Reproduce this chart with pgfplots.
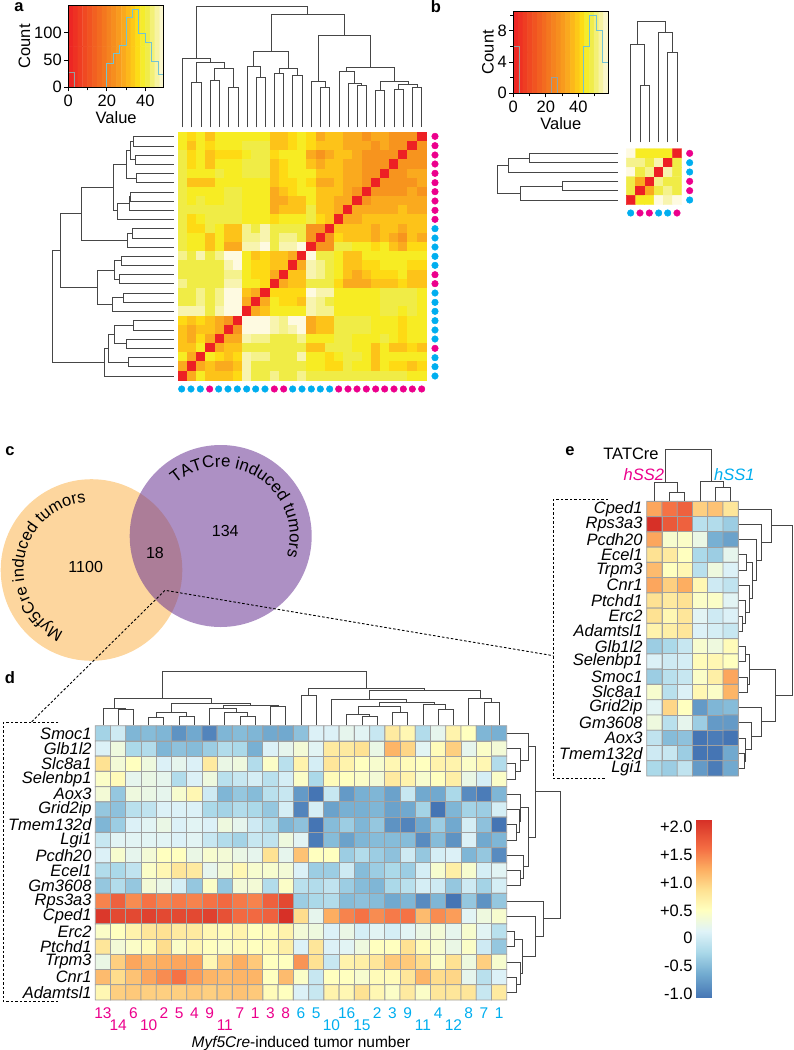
\documentclass[border=0pt]{standalone}
\usepackage{fontspec}
\setmainfont{Liberation Sans}
\usepackage{pgfplots}
\usepackage{pgfplotstable}
\pgfplotsset{compat=1.18}
\usetikzlibrary{decorations.text}
\definecolor{mag}{RGB}{236,0,140}
\definecolor{cya}{RGB}{0,174,239}
\definecolor{dend}{RGB}{70,70,70}
\definecolor{stair}{RGB}{115,195,210}
\definecolor{cellg}{RGB}{160,160,160}
\pgfplotsset{
 colormap={heatc}{rgb255(0pt)=(237,32,36); rgb255(25pt)=(247,148,30); rgb255(29pt)=(250,170,30); rgb255(33pt)=(253,195,25); rgb255(36pt)=(254,218,20); rgb255(38pt)=(247,236,35); rgb255(41pt)=(240,236,70); rgb255(45pt)=(245,242,140); rgb255(47pt)=(248,244,175); rgb255(50pt)=(254,250,225)},
 colormap={rdyl}{rgb255=(69,117,180) rgb255=(116,173,209) rgb255=(171,217,233) rgb255=(224,243,248) rgb255=(255,255,191) rgb255=(254,224,144) rgb255=(253,174,97) rgb255=(244,109,67) rgb255=(215,48,39)},
 ov/.style n args={6}{at={(#1pt,-#2pt)},anchor=north west,scale only axis,width=#3pt,height=#4pt,xmin=0,xmax=#5,ymin=0,ymax=#6,y dir=reverse,hide axis,clip=false},
 den/.style={draw=dend,line width=0.9pt,forget plot,mark=none,line join=miter},
 hist/.style={scale only axis,axis on top,anchor=north west,tick align=outside,tick pos=left,
   axis line style={line width=1pt,black},
   major tick length=4pt,minor tick length=3pt,tick style={black,line width=0.8pt},
   tick label style={font=\fontsize{16.5}{18}\selectfont,/pgf/number format/assume math mode=true},
   label style={font=\fontsize{16.5}{18}\selectfont},
   xticklabel style={yshift=0pt},yticklabel style={xshift=1pt},
   xlabel style={yshift=2pt},ylabel style={yshift=-3pt}},
 heat/.style={scale only axis,anchor=north west,y dir=reverse,axis line style={draw=none},major tick length=0pt,clip=false},
}
\newcommand\TD[5]{\addplot[den] coordinates {(#1,#2)(#1,#5)(#3,#5)(#3,#4)};}
\newcommand\HD[5]{\addplot[den] coordinates {(#2,#1)(#5,#1)(#5,#3)(#4,#3)};}
\newcommand\fs{\fontsize{16.5}{18}\selectfont}
\newcommand\Mu[1]{\smash{\textcolor{mag}{#1}}}
\newcommand\Ml[1]{\smash{\raisebox{-12.5pt}{\textcolor{mag}{#1}}}}
\newcommand\Cu[1]{\smash{\textcolor{cya}{#1}}}
\newcommand\Cl[1]{\smash{\raisebox{-12.5pt}{\textcolor{cya}{#1}}}}

\pgfplotstableread[header=false,row sep=\\]{
1.25\\3.75\\6.25\\8.75\\11.25\\13.75\\16.25\\18.75\\21.25\\23.75\\26.25\\28.75\\31.25\\33.75\\36.25\\38.75\\41.25\\43.75\\46.25\\48.75\\
1.25\\3.75\\6.25\\8.75\\11.25\\13.75\\16.25\\18.75\\21.25\\23.75\\26.25\\28.75\\31.25\\33.75\\36.25\\38.75\\41.25\\43.75\\46.25\\48.75\\
}\stripes

\pgfplotstableread[header=false,row sep=\\]{
38\\36\\38\\33\\38\\38\\38\\38\\38\\38\\33\\33\\36\\38\\36\\29\\33\\33\\29\\29\\25\\29\\29\\25\\25\\25\\0\\
38\\33\\38\\36\\38\\38\\38\\41\\41\\41\\33\\33\\36\\38\\36\\33\\33\\33\\29\\29\\29\\25\\29\\25\\25\\0\\25\\
41\\36\\38\\33\\36\\36\\36\\38\\41\\41\\36\\38\\38\\38\\29\\25\\29\\33\\33\\29\\25\\25\\25\\25\\0\\25\\25\\
41\\36\\38\\33\\38\\38\\38\\41\\41\\41\\33\\36\\38\\38\\33\\29\\33\\33\\29\\29\\25\\25\\25\\0\\25\\25\\25\\
41\\38\\38\\38\\41\\38\\38\\41\\41\\41\\33\\36\\38\\38\\38\\33\\33\\33\\29\\29\\25\\25\\0\\25\\25\\29\\29\\
41\\33\\33\\33\\38\\38\\38\\38\\38\\38\\33\\36\\36\\38\\36\\29\\29\\33\\29\\29\\25\\0\\25\\25\\25\\25\\29\\
41\\38\\38\\38\\38\\41\\41\\38\\38\\38\\29\\33\\36\\38\\38\\33\\33\\33\\29\\25\\0\\25\\25\\25\\25\\29\\25\\
41\\38\\41\\38\\38\\41\\41\\38\\38\\38\\29\\29\\33\\33\\38\\33\\33\\29\\29\\0\\25\\29\\29\\29\\29\\29\\29\\
41\\41\\41\\41\\41\\41\\41\\38\\38\\38\\29\\33\\33\\33\\41\\33\\33\\29\\0\\29\\29\\29\\29\\29\\33\\29\\29\\
41\\36\\38\\41\\41\\41\\41\\38\\38\\38\\36\\38\\38\\38\\41\\36\\33\\0\\29\\29\\33\\33\\33\\33\\33\\33\\33\\
41\\36\\36\\41\\38\\33\\33\\45\\41\\47\\41\\41\\41\\41\\25\\25\\0\\33\\33\\33\\33\\29\\33\\33\\29\\33\\33\\
41\\38\\38\\33\\38\\33\\33\\45\\45\\47\\41\\45\\45\\41\\25\\0\\25\\36\\33\\33\\33\\29\\33\\29\\25\\33\\29\\
41\\38\\38\\33\\38\\29\\29\\47\\47\\50\\41\\47\\47\\50\\0\\25\\25\\41\\41\\38\\38\\36\\38\\33\\29\\36\\36\\
45\\41\\47\\41\\45\\50\\50\\38\\33\\36\\33\\33\\29\\0\\50\\41\\41\\38\\33\\33\\38\\38\\38\\38\\38\\38\\38\\
41\\41\\41\\41\\41\\47\\50\\38\\36\\36\\33\\33\\0\\29\\47\\45\\41\\38\\33\\33\\36\\36\\38\\38\\38\\36\\36\\
41\\41\\41\\41\\41\\45\\45\\38\\36\\36\\29\\0\\33\\33\\47\\45\\41\\38\\33\\29\\33\\36\\36\\36\\38\\33\\33\\
45\\41\\41\\41\\41\\47\\47\\38\\38\\36\\0\\29\\33\\33\\41\\41\\41\\36\\29\\29\\29\\33\\33\\33\\36\\33\\33\\
41\\41\\45\\41\\45\\50\\50\\33\\29\\0\\36\\36\\36\\36\\50\\47\\47\\38\\38\\38\\38\\38\\41\\41\\41\\41\\38\\
41\\41\\45\\41\\45\\50\\50\\29\\0\\29\\38\\36\\36\\33\\47\\45\\41\\38\\38\\38\\38\\38\\41\\41\\41\\41\\38\\
47\\47\\47\\41\\47\\50\\50\\0\\29\\33\\38\\38\\38\\38\\47\\45\\45\\38\\38\\38\\38\\38\\41\\41\\38\\41\\38\\
36\\33\\36\\33\\29\\25\\0\\50\\50\\50\\47\\45\\50\\50\\29\\33\\33\\41\\41\\41\\41\\38\\38\\38\\36\\38\\38\\
33\\29\\33\\33\\29\\0\\25\\50\\50\\50\\47\\45\\47\\50\\29\\33\\33\\41\\41\\41\\41\\38\\38\\38\\36\\38\\38\\
33\\29\\36\\29\\0\\29\\29\\47\\45\\45\\41\\41\\41\\45\\38\\38\\38\\41\\41\\38\\38\\38\\41\\38\\36\\38\\38\\
33\\33\\38\\0\\29\\33\\33\\41\\41\\41\\41\\41\\41\\41\\33\\33\\41\\41\\41\\38\\38\\33\\38\\33\\33\\36\\33\\
38\\29\\0\\38\\36\\33\\36\\47\\45\\45\\41\\41\\41\\47\\38\\38\\36\\38\\41\\41\\38\\33\\38\\38\\38\\38\\38\\
29\\0\\29\\33\\29\\29\\33\\47\\41\\41\\41\\41\\41\\41\\38\\38\\36\\36\\41\\38\\38\\33\\38\\36\\36\\33\\36\\
0\\29\\38\\33\\33\\33\\36\\47\\41\\41\\45\\41\\41\\45\\41\\41\\41\\41\\41\\41\\41\\41\\41\\41\\41\\38\\38\\
}\heatA

\pgfplotstableread[header=false,row sep=\\]{
50\\38\\38\\38\\38\\0\\
45\\45\\41\\47\\0\\41\\
50\\41\\45\\0\\47\\41\\
41\\29\\0\\45\\41\\41\\
41\\0\\29\\41\\45\\41\\
0\\38\\38\\50\\47\\50\\
}\heatB

\pgfplotstableread[header=false,row sep=\\]{
-0.3\\0\\-0.55\\-0.5\\-0.55\\-0.8\\-0.65\\-0.9\\-0.55\\-0.5\\-0.55\\-0.65\\-0.65\\-0.45\\0.1\\0.1\\0.2\\0.15\\-0.05\\0.75\\0.6\\-0.2\\0.2\\0.65\\0.5\\-0.55\\-0.6\\
0.1\\0.3\\-0.25\\-0.2\\-0.55\\-0.45\\-0.5\\-0.35\\-0.2\\-0.25\\-0.6\\0.1\\0.2\\0.35\\0.15\\0.75\\0.75\\0.85\\0.25\\1.2\\0.95\\0.15\\0.55\\1.0\\0.2\\0.45\\0.35\\
0.85\\0.35\\0.5\\0.3\\0.1\\0.2\\0.1\\0.75\\0.25\\0.3\\-0.2\\0.45\\-0.15\\0.65\\0.05\\0.8\\0.65\\0.5\\0.4\\0.6\\0.55\\0.5\\0.65\\0.65\\0.45\\0.6\\-0.2\\
0.45\\0.55\\0.2\\0.25\\0.2\\-0.2\\0.1\\0.3\\-0.15\\-0.05\\0.05\\-0.15\\0.05\\0.45\\-0.25\\0.55\\0.5\\0.45\\0.35\\0.75\\0.65\\0.4\\0.5\\0.7\\0.25\\0.05\\0.45\\
0.35\\-0.4\\0.3\\0.25\\0.2\\0.4\\0.6\\0\\-0.55\\-0.4\\-0.5\\-0.15\\-0.05\\-0.75\\-1.0\\-0.05\\-0.75\\-0.6\\-0.55\\-0.7\\-0.05\\-0.65\\-0.65\\-0.25\\-0.85\\-0.95\\-0.55\\
-0.4\\-0.45\\-0.15\\-0.1\\0.1\\0.1\\0.1\\-0.25\\-0.3\\-0.2\\-0.25\\-0.4\\0.05\\-0.9\\0.05\\-0.7\\-0.6\\-0.6\\-0.55\\-0.7\\-0.65\\-0.3\\-1.0\\-0.55\\-0.3\\-0.35\\0.05\\
-0.55\\-0.35\\0.1\\0.15\\0.25\\0.1\\0.15\\0.1\\0.3\\0.2\\0\\-0.2\\-0.55\\-0.45\\-1.0\\-0.5\\-0.35\\-0.55\\-0.4\\-0.8\\-0.9\\-0.65\\-0.35\\-0.65\\0.05\\-0.45\\-1.0\\
-0.05\\0.15\\0.15\\0.15\\0.15\\0.1\\0.15\\-0.05\\-0.2\\-0.3\\-0.05\\-0.1\\0.3\\0.15\\-0.95\\-0.5\\-0.7\\-0.55\\-0.5\\-0.5\\-0.5\\-0.85\\-0.5\\-0.8\\0.1\\-0.65\\-0.55\\
0.1\\0.4\\0.2\\0.35\\0.5\\0.5\\0.25\\0.4\\0.35\\0.25\\0.2\\0.85\\0.2\\1.1\\0.5\\0.5\\-0.35\\-0.2\\-0.35\\-0.45\\0\\-0.4\\0.05\\0.1\\-0.55\\-0.4\\-0.85\\
-0.2\\-0.25\\-0.1\\0.45\\0.6\\0.8\\0.75\\0.2\\0.35\\0.6\\0.4\\0.4\\0.35\\0.1\\-0.35\\-0.35\\0\\-0.5\\-0.35\\-0.25\\-0.35\\0.05\\0.4\\0.7\\0.4\\0.05\\0.15\\
-0.4\\-0.2\\-0.4\\0.35\\0.25\\0.05\\-0.4\\0.45\\-0.4\\0.35\\0.35\\-0.2\\0.45\\-0.15\\-0.2\\-0.1\\-0.35\\-0.5\\-0.55\\-0.25\\-0.15\\0.05\\0\\-0.4\\0\\-0.3\\0.05\\
1.5\\1.7\\1.45\\1.6\\1.5\\1.55\\1.5\\1.6\\1.65\\1.55\\1.5\\1.7\\1.85\\-0.35\\-0.25\\-0.2\\-0.5\\-0.45\\-0.5\\-0.65\\-0.55\\-0.85\\-0.55\\-1.0\\-0.4\\-0.8\\-0.4\\
1.95\\1.85\\1.85\\1.9\\1.85\\1.85\\1.85\\1.9\\1.8\\1.65\\1.65\\1.7\\2.0\\0.9\\0.2\\1.25\\1.5\\1.6\\1.45\\1.55\\1.6\\1.15\\1.45\\1.35\\0.15\\0.3\\0.4\\
0.45\\0.5\\0.65\\0.8\\0.85\\0.75\\0.75\\0.6\\0.55\\0.65\\0.5\\0.55\\0.65\\0.35\\0.3\\0.1\\0.25\\0.05\\0.15\\0.05\\0.15\\0.25\\0.35\\0.2\\0.4\\0.15\\-0.15\\
0.8\\0.35\\0.45\\0.55\\0.9\\0.45\\0.6\\0.5\\0.45\\0.55\\0.5\\0.55\\0.7\\0.1\\0.8\\0.1\\0.15\\0.3\\0.5\\0.5\\0.85\\0.55\\0.4\\0.25\\0.45\\0\\-0.4\\
0.25\\1.0\\1.3\\1.2\\1.25\\1.3\\1.3\\0.6\\1.05\\1.25\\1.05\\0.5\\0.5\\1.4\\0.85\\-0.05\\0.65\\0.7\\0.8\\1.05\\1.05\\0.9\\0.45\\0.85\\0.3\\1.0\\0.4\\
1.15\\0.9\\1.1\\1.3\\1.45\\1.6\\1.35\\1.2\\1.15\\1.2\\1.2\\0.5\\1.15\\0.45\\-0.05\\0.5\\0.5\\0.4\\0.55\\0.55\\0.8\\1.2\\0.9\\0.95\\0.2\\-0.15\\0.1\\
0.6\\1.0\\1.05\\1.0\\1.0\\1.0\\1.05\\1.0\\1.05\\1.1\\1.05\\0.55\\0.5\\0.1\\-0.05\\0.65\\0.6\\0.85\\0.6\\0.45\\0.75\\0.45\\0.8\\0.8\\0.8\\-0.05\\0.75\\
}\heatD

\pgfplotstableread[header=false,row sep=\\]{
1.3\\1.6\\1.7\\1.0\\1.1\\0.8\\
2.0\\1.75\\1.7\\-0.15\\-0.2\\-0.35\\
1.3\\0.4\\0.45\\0.25\\-0.6\\-0.7\\
0.85\\0.75\\0.5\\-0.25\\-0.35\\0.2\\
1.15\\0.5\\0.6\\-0.15\\0.3\\0.1\\
1.3\\1.0\\1.25\\0.6\\0\\-0.1\\
0.85\\0.75\\0.85\\0.45\\0.45\\0.15\\
0.85\\0.6\\0.8\\0.15\\0\\0.1\\
0.65\\0.7\\0.8\\0.1\\0.05\\-0.05\\
-0.35\\-0.25\\-0.05\\0.4\\0.3\\0.55\\
0.1\\0\\0.05\\0.55\\0.6\\0.5\\
-0.35\\-0.15\\-0.05\\0.45\\0.7\\1.3\\
0.4\\-0.15\\0.1\\0.6\\0.45\\1.2\\
0.15\\0.95\\0.5\\-0.75\\-0.55\\-0.5\\
0.3\\-0.15\\0.2\\-0.35\\-0.75\\-0.75\\
-0.1\\-0.5\\-0.45\\-1.0\\-0.95\\-1.0\\
0\\-0.05\\-0.35\\-1.0\\-1.0\\-0.65\\
-0.25\\-0.35\\-0.1\\-0.75\\-0.95\\-0.65\\
}\heatE

\begin{document}
\begin{tikzpicture}[x=1pt,y=1pt]
\path[use as bounding box] (0,0) rectangle (793,-1050);

% ---------- panel c venn
\fill[fill={rgb,255:red,253;green,214;blue,158}] (91.5,-570) circle[radius=90.8];
\fill[fill={rgb,255:red,106;green,53;blue,148},opacity=0.55] (220.7,-536) circle[radius=91];
\path[decorate,decoration={text along path,text={|\fontsize{16.8}{18}\selectfont|TATCre induced tumors}}]
  (220.7,-536) ++(131:69) arc[start angle=131,end angle=-26,radius=69];
\path[decorate,decoration={text along path,text={|\fontsize{16.5}{18}\selectfont|Myf5Cre induced tumors}}]
  (91.5,-570) ++(246:68) arc[start angle=246,end angle=88,radius=68];
\node[font=\fontsize{16}{18}\selectfont] at (85.7,-566.7) {1100};
\node[font=\fontsize{16}{18}\selectfont] at (155,-553) {18};
\node[font=\fontsize{16}{18}\selectfont] at (225.3,-530.7) {134};
\draw[line width=0.9pt,dash pattern=on 2.5pt off 2pt] (31.7,-721.7) -- (165,-590.3) -- (553.3,-655.7);
\draw[line width=0.8pt,dash pattern=on 2.5pt off 2pt] (58.3,-722.3) -- (3.3,-722.3) -- (3.3,-1001.7) -- (58.3,-1001.7);
\draw[line width=0.8pt,dash pattern=on 2.5pt off 2pt] (608,-499.3) -- (553.3,-499.3) -- (553.3,-778) -- (606,-778);

% panel letters
\foreach \l/\px/\py in {a/19/7,b/436/7,c/10/451,d/10/678,e/570/451}
  \node[font=\fontsize{16.5}{18}\selectfont\bfseries] at (\px,-\py) {\l};

% ---------- histogram a
\begin{axis}[hist,at={(68.3pt,-5.3pt)},width=95.7pt,height=82pt,xmin=0,xmax=49.7,ymin=0,ymax=150,
  xtick={0,20,40},minor xtick={10,30},ytick={0,50,100},xlabel={Value},ylabel={Count}]
\addplot[matrix plot*,colormap name=heatc,mesh/cols=20,point meta=explicit,point meta min=0,point meta max=50]
  table[x index=0,y index=0,x expr={1.25+2.5*(\coordindex-20*floor((\coordindex+0.5)/20))},y expr={37.5+75*floor((\coordindex+0.5)/20)},meta index=0]{\stripes};
\addplot[line width=1pt,color={rgb,255:red,150;green,160;blue,160},mark=none] coordinates {(0,27)(3.4,27)(3.4,0)};
\addplot[line width=1pt,stair,mark=none] coordinates {(20,0)(20,44)(23.3,44)(23.3,62)(26.7,62)(26.7,76)(30,76)(30,127)(33.3,127)(33.3,142)(36.6,142)(36.6,98)(40,98)(40,82)(43.3,82)(43.3,48)(46.6,48)(46.6,24)(50,24)};
\end{axis}

% ---------- histogram b
\begin{axis}[hist,at={(513.3pt,-11pt)},width=95pt,height=82.3pt,xmin=0,xmax=58.5,ymin=0,ymax=10.55,
  xtick={0,20,40},minor xtick={10,30,50},ytick={0,4,8},minor ytick={2,6,10},xlabel={Value},ylabel={Count}]
\addplot[matrix plot*,colormap name=heatc,mesh/cols=20,point meta=explicit,point meta min=0,point meta max=50]
  table[x index=0,y index=0,x expr={1.4625+2.925*(\coordindex-20*floor((\coordindex+0.5)/20))},y expr={2.6375+5.275*floor((\coordindex+0.5)/20)},meta index=0]{\stripes};
\addplot[line width=1pt,color={rgb,255:red,150;green,160;blue,160},mark=none] coordinates {(0,6)(3.9,6)(3.9,0)};
\addplot[line width=1pt,color={rgb,255:red,150;green,160;blue,160},mark=none] coordinates {(23.4,0)(23.4,2)(27.5,2)(27.5,0)};
\addplot[line width=1pt,stair,mark=none] coordinates {(43,0)(43,6)(47,6)(47,10)(51,10)(51,8)(55,8)(55,4)(58.5,4)};
\end{axis}

% ---------- heat a
\begin{axis}[heat,at={(178pt,-132pt)},width=248pt,height=248pt,xmin=-0.5,xmax=26.5,ymin=-0.5,ymax=26.5,hide axis]
\addplot[matrix plot*,colormap name=heatc,mesh/cols=27,point meta=explicit,point meta min=0,point meta max=50]
  table[x index=0,y index=0,x expr={\coordindex-27*floor((\coordindex+0.5)/27)},y expr={floor((\coordindex+0.5)/27)},meta index=0]{\heatA};
\end{axis}

% ---------- heat b
\begin{axis}[heat,at={(626.3pt,-148.7pt)},width=55.4pt,height=56pt,xmin=-0.5,xmax=5.5,ymin=-0.5,ymax=5.5,hide axis]
\addplot[matrix plot*,colormap name=heatc,mesh/cols=6,point meta=explicit,point meta min=0,point meta max=50]
  table[x index=0,y index=0,x expr={\coordindex-6*floor((\coordindex+0.5)/6)},y expr={floor((\coordindex+0.5)/6)},meta index=0]{\heatB};
\end{axis}

% ---------- heat d
\begin{axis}[heat,at={(95.3pt,-725.7pt)},width=411.4pt,height=274.3pt,xmin=-0.5,xmax=26.5,ymin=-0.5,ymax=17.5,
  xtick={0,...,26},ytick={0,...,17},
  yticklabels={Smoc1,Glb1l2,Slc8a1,Selenbp1,Aox3,Grid2ip,Tmem132d,Lgi1,Pcdh20,Ecel1,Gm3608,Rps3a3,Cped1,Erc2,Ptchd1,Trpm3,Cnr1,Adamtsl1},
  yticklabel style={font=\fs\itshape,inner sep=0pt,xshift=-3.5pt},
  xticklabels={\Mu{13},\Ml{14},\Mu{6},\Ml{10},\Mu{2},\Mu{5},\Mu{4},\Mu{9},\Ml{11},\Mu{7},\Mu{1},\Mu{3},\Mu{8},\Cu{6},\Cu{5},\Cl{10},\Cu{16},\Cl{15},\Cu{2},\Cu{3},\Cu{9},\Cl{11},\Cu{4},\Cl{12},\Cu{8},\Cu{7},\Cu{1}},
  xticklabel style={font=\fontsize{15.5}{17}\selectfont,inner sep=0pt,yshift=-17.6pt},
  xlabel={\textit{Myf5Cre}-induced tumor number},
  xlabel style={font=\fontsize{15.5}{17}\selectfont,at={(axis description cs:0.5,0)},anchor=north,yshift=-33pt}]
\addplot[matrix plot,draw=cellg,line width=0.9pt,colormap name=rdyl,mesh/cols=27,point meta=explicit,point meta min=-1,point meta max=2]
  table[x index=0,y index=0,x expr={\coordindex-27*floor((\coordindex+0.5)/27)},y expr={floor((\coordindex+0.5)/27)},meta index=0]{\heatD};
\end{axis}

% ---------- heat e
\begin{axis}[heat,at={(646.7pt,-501.3pt)},width=91.6pt,height=274.7pt,xmin=-0.5,xmax=5.5,ymin=-0.5,ymax=17.5,
  xtick=\empty,ytick={0,...,17},
  yticklabels={Cped1,Rps3a3,Pcdh20,Ecel1,Trpm3,Cnr1,Ptchd1,Erc2,Adamtsl1,Glb1l2,Selenbp1,Smoc1,Slc8a1,Grid2ip,Gm3608,Aox3,Tmem132d,Lgi1},
  yticklabel style={font=\fs\itshape,inner sep=0pt,xshift=-4pt}]
\addplot[matrix plot,draw=cellg,line width=0.9pt,colormap name=rdyl,mesh/cols=6,point meta=explicit,point meta min=-1,point meta max=2]
  table[x index=0,y index=0,x expr={\coordindex-6*floor((\coordindex+0.5)/6)},y expr={floor((\coordindex+0.5)/6)},meta index=0]{\heatE};
\end{axis}
\node[font=\fontsize{16.5}{18}\selectfont] at (631,-454) {TATCre};
\node[font=\fontsize{16.5}{18}\selectfont\itshape,text=mag,anchor=east,inner sep=0pt] at (664.3,-475) {hSS2};
\node[font=\fontsize{16.5}{18}\selectfont\itshape,text=cya,anchor=west,inner sep=0pt] at (714,-475) {hSS1};

% ---------- colour bar
\begin{axis}[heat,y dir=normal,at={(696.3pt,-820pt)},width=14.7pt,height=177.7pt,xmin=0,xmax=1,ymin=-1.066,ymax=2.12,
  xtick=\empty,ytick={-1,-0.5,0,0.5,1,1.5,2},yticklabels={-1.0,-0.5,0,+0.5,+1.0,+1.5,+2.0},
  yticklabel style={font=\fs,inner sep=0pt,xshift=-3.5pt}]
\addplot[surf,shader=interp,colormap name=rdyl,mesh/cols=2,point meta=y,point meta min=-1,point meta max=2]
  coordinates {(0,-1.066)(1,-1.066)(0,-0.625)(1,-0.625)(0,-0.25)(1,-0.25)(0,0.125)(1,0.125)(0,0.5)(1,0.5)(0,0.875)(1,0.875)(0,1.25)(1,1.25)(0,1.625)(1,1.625)(0,2.12)(1,2.12)};
\end{axis}

% ---------- dendrograms and dots a (coordinates 3x pixel)
\begin{axis}[ov={0}{0}{450}{410}{1350}{1230}]
\TD{575}{382}{603}{382}{246}
\TD{630}{382}{658}{382}{242}
\TD{686}{382}{714}{382}{261}
\TD{644}{242}{700}{261}{205}
\TD{589}{246}{672}{205}{187}
\TD{548}{382}{630}{187}{176}
\TD{768}{382}{796}{382}{233}
\TD{741}{382}{782}{233}{200}
\TD{824}{382}{851}{382}{221}
\TD{878}{382}{906}{382}{226}
\TD{837}{221}{892}{226}{205}
\TD{761}{200}{865}{205}{153}
\TD{961}{382}{989}{382}{261}
\TD{934}{382}{975}{261}{245}
\TD{1072}{382}{1099}{382}{255}
\TD{1044}{382}{1085}{255}{249}
\TD{1017}{382}{1064}{249}{214}
\TD{1127}{382}{1154}{382}{272}
\TD{1182}{382}{1210}{382}{267}
\TD{1237}{382}{1265}{382}{263}
\TD{1196}{267}{1251}{263}{254}
\TD{1140}{272}{1224}{254}{243}
\TD{1040}{214}{1182}{243}{203}
\TD{955}{245}{1111}{203}{105}
\TD{813}{153}{1034}{105}{43}
\TD{589}{176}{923}{43}{20}
\HD{410}{521}{438}{521}{400}
\HD{465}{521}{493}{521}{405}
\HD{424}{400}{479}{405}{390}
\HD{520}{521}{548}{521}{410}
\HD{451}{390}{534}{410}{380}
\HD{576}{521}{604}{521}{392}
\HD{590}{392}{631}{521}{387}
\HD{610}{387}{659}{521}{353}
\HD{492}{380}{632}{353}{341}
\HD{686}{521}{714}{521}{398}
\HD{700}{398}{741}{521}{383}
\HD{562}{341}{720}{383}{244}
\HD{769}{521}{796}{521}{364}
\HD{824}{521}{851}{521}{358}
\HD{782}{364}{838}{358}{344}
\HD{879}{521}{907}{521}{370}
\HD{893}{370}{934}{521}{338}
\HD{810}{344}{913}{338}{291}
\HD{641}{244}{862}{291}{181}
\HD{962}{521}{990}{521}{399}
\HD{1017}{521}{1045}{521}{379}
\HD{976}{399}{1031}{379}{343}
\HD{1073}{521}{1100}{521}{385}
\HD{1003}{343}{1087}{385}{324}
\HD{1045}{324}{1128}{521}{312}
\HD{751}{181}{1086}{312}{157}
\addplot[only marks,mark=*,mark size=3.3pt,color=mag,mark options={draw=none}] coordinates {
 (1305,409)(1305,437)(1305,465)(1305,492)(1305,520)(1305,548)(1305,575)(1305,603)(1305,631)(1305,658)
 (1305,824)(1305,851)(1305,1045)
 (629,1167)(823,1167)(851,1167)(1016,1167)(1044,1167)(1071,1167)(1099,1167)(1127,1167)(1154,1167)(1182,1167)(1210,1167)(1237,1167)(1265,1167)};
\addplot[only marks,mark=*,mark size=3.3pt,color=cya,mark options={draw=none}] coordinates {
 (1305,686)(1305,714)(1305,741)(1305,769)(1305,796)(1305,879)(1305,907)(1305,934)(1305,962)(1305,990)(1305,1017)(1305,1073)(1305,1100)(1305,1128)
 (545,1167)(573,1167)(601,1167)(656,1167)(684,1167)(712,1167)(740,1167)(767,1167)(795,1167)(878,1167)(906,1167)(934,1167)(961,1167)(989,1167)};
\end{axis}

% ---------- dendrograms and dots b
\begin{axis}[ov={470}{0}{250}{240}{750}{720}]
\TD{510}{427}{538}{427}{257}
\TD{482}{427}{524}{257}{132}
\TD{593}{427}{621}{427}{157}
\TD{566}{427}{607}{157}{96}
\TD{503}{132}{586}{96}{64}
\HD{460}{445}{488}{445}{177}
\HD{474}{177}{516}{445}{115}
\HD{544}{445}{572}{445}{276}
\HD{558}{276}{600}{445}{150}
\HD{495}{115}{579}{150}{82}
\addplot[only marks,mark=*,mark size=3.3pt,color=mag,mark options={draw=none}] coordinates {(659,460)(659,544)(659,572)(510,639)(538,639)(621,639)};
\addplot[only marks,mark=*,mark size=3.3pt,color=cya,mark options={draw=none}] coordinates {(659,488)(659,516)(659,600)(482,639)(566,639)(593,639)};
\end{axis}

% ---------- dendrogram d, top left
\begin{axis}[ov={95}{665}{210}{65}{630}{195}]
\TD{69}{180}{115}{180}{133}
\TD{24}{180}{92}{133}{130}
\TD{161}{180}{206}{180}{157}
\TD{252}{180}{298}{180}{155}
\TD{183.5}{157}{275}{155}{143}
\TD{435}{180}{481}{180}{154}
\TD{389}{180}{458}{154}{141}
\TD{344}{180}{424}{141}{129}
\TD{527}{180}{572}{180}{125}
\TD{384}{129}{550}{125}{121}
\TD{229}{143}{467}{121}{114}
\TD{58}{130}{348}{114}{101}
\TD{203}{101}{815}{69}{20}
\end{axis}

% ---------- dendrogram d, top right
\begin{axis}[ov={295}{665}{215}{65}{645}{195}]
\TD{18}{180}{64}{180}{92}
\TD{201}{180}{247}{180}{153}
\TD{155}{180}{224}{153}{147}
\TD{292}{180}{338}{180}{143}
\TD{190}{147}{315}{143}{125}
\TD{430}{180}{475}{180}{133}
\TD{384}{180}{452}{133}{119}
\TD{252}{125}{418}{119}{113}
\TD{110}{180}{335}{113}{104}
\TD{567}{180}{612}{180}{113}
\TD{521}{180}{590}{113}{100}
\TD{222}{104}{555}{100}{75}
\TD{41}{92}{389}{75}{69}
\end{axis}

% ---------- dendrogram d, right
\begin{axis}[ov={500}{720}{70}{285}{210}{855}]
\HD{131}{20}{177}{20}{47}
\HD{86}{20}{154}{47}{62}
\HD{40}{20}{120}{62}{85}
\HD{314}{20}{360}{20}{50}
\HD{269}{20}{337}{50}{57}
\HD{223}{20}{303}{57}{60}
\HD{451}{20}{497}{20}{60}
\HD{406}{20}{474}{60}{70}
\HD{263}{60}{440}{70}{84}
\HD{80}{85}{351}{84}{106}
\HD{634}{20}{680}{20}{44}
\HD{771}{20}{817}{20}{50}
\HD{726}{20}{794}{50}{62}
\HD{657}{44}{760}{62}{68}
\HD{589}{20}{708}{68}{107}
\HD{543}{20}{648}{107}{129}
\HD{215}{106}{595}{129}{180}
\end{axis}

% ---------- dendrogram e, right
\begin{axis}[ov={730}{495}{63}{290}{189}{870}]
\HD{179}{26}{225}{26}{50}
\HD{363}{26}{408}{26}{36}
\HD{317}{26}{385}{36}{46}
\HD{271}{26}{351}{46}{58}
\HD{202}{50}{311}{58}{67}
\HD{134}{26}{256}{67}{80}
\HD{88}{26}{195}{80}{94}
\HD{42}{26}{142}{94}{125}
\HD{454}{26}{500}{26}{46}
\HD{546}{26}{592}{26}{52}
\HD{477}{46}{569}{52}{58}
\HD{775}{26}{821}{26}{42}
\HD{729}{26}{798}{42}{46}
\HD{683}{26}{763}{46}{65}
\HD{637}{26}{723}{65}{94}
\HD{523}{58}{680}{94}{135}
\HD{92}{125}{601}{135}{186}
\end{axis}

% ---------- dendrogram e, top
\begin{axis}[ov={540}{430}{253}{340}{759}{1020}]
\TD{389}{213}{434}{213}{187}
\TD{343}{213}{411}{187}{157}
\TD{526}{213}{572}{213}{172}
\TD{480}{213}{549}{172}{155}
\TD{377}{157}{514}{155}{57}
\end{axis}
\end{tikzpicture}
\end{document}
